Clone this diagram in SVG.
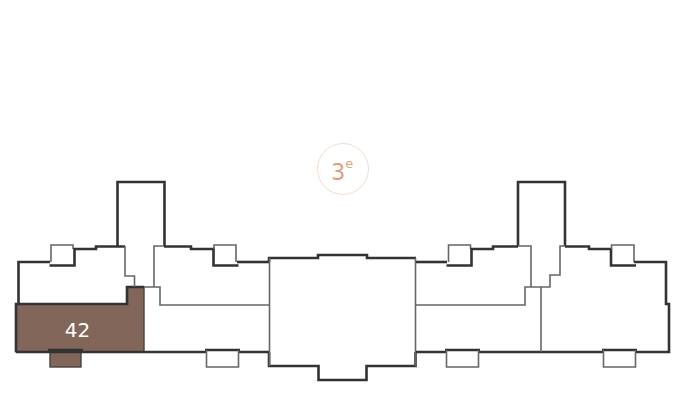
<svg xmlns="http://www.w3.org/2000/svg" width="683" height="417" viewBox="0 0 683 417">
<style>
.t{fill:none;stroke:#333;stroke-width:2.6;stroke-linejoin:miter}
.m{fill:none;stroke:#666;stroke-width:1.6}
.b{fill:#83665a;stroke:#444;stroke-width:1.4}
.n{font-family:"DejaVu Sans","Noto Sans",sans-serif}
</style>
<rect width="683" height="417" fill="#fff"/>
<g id="floor-badge">
<circle cx="343" cy="169" r="25.5" fill="#fff" stroke="#f1dccf" stroke-width="1"/>
<text class="n" x="331" y="180" font-size="22.500" fill="#df9f7f">3<tspan font-size="13" dy="-12">e</tspan></text>
</g>
<g id="unit-42">
<path class="b" d="M16 352V304H127V287H144V352Z"/>
<rect class="b" x="50" y="352" width="31" height="15"/>
<text class="n" x="77.500" y="337" font-size="20" fill="#fff" text-anchor="middle">42</text>
</g>
<g id="connectors">
<path class="t" d="M16 352V304H127V287H144"/>
<path class="t" d="M16 352H144"/>
<path class="t" d="M48 350H83"/>
<path class="t" d="M18.500 304V262H50"/>
<path class="m" d="M51 262V245H73V249"/>
<path class="t" d="M49.500 265.500H74.500V249H96V246.500H125M117.500 246V182H164.500V246M164 246.500H191V249H213.500V265.500H238.500"/>
<path class="m" d="M125 246V276H134.500V287M164 246H154V287M144 287H160V305H269"/>
<path class="m" d="M214 249V245H236V262"/>
<path class="t" d="M237 262H269"/>
<path class="t" d="M144 352H206M238 352H269"/>
<path class="t" d="M205 350H240"/>
<path class="m" d="M206.500 350V367H238.500V350"/>
<path class="t" d="M269 262V258H318V255H367V258H416M269 352V366H318.500V380H366.500V366H415.500V352"/>
<path class="m" d="M269.500 258V366M415.500 258V366"/>
<path class="t" d="M416 262H447"/>
<path class="m" d="M448.500 262V245H470.500V249"/>
<path class="t" d="M446.500 265.500H471.500V249H493V246.500H518M518 246V182H565V246"/>
<path class="t" d="M565 246.500H589V249H611V265.500H636"/>
<path class="m" d="M611.500 249V245H634V262"/>
<path class="t" d="M634 262H666V304H669V352H635M603 352H478M446 352H416"/>
<path class="m" d="M518 246H531V287M565 246H560V275H550V287H525V305H416M541 287V352"/>
<path class="t" d="M445 350H480M602 350H637"/>
<path class="m" d="M446.500 350V367H478.500V350M603.500 350V367H635.500V350"/>
</g>
</svg>
